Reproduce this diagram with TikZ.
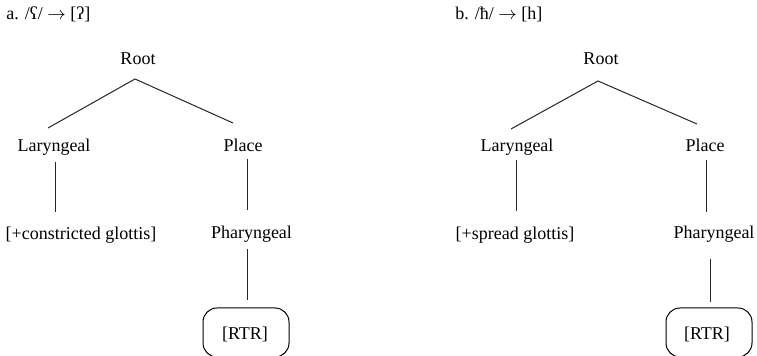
\documentclass[tikz,border=0pt]{standalone}
\usepackage{fontspec}
\setmainfont{Liberation Serif}
\newfontfamily\ipafont{DejaVu Serif}
\begin{document}
\begin{tikzpicture}[x=0.5pt,y=-0.5pt,
  lbl/.style={anchor=base,inner sep=0pt,font=\fontsize{9}{11}\selectfont},
  ttl/.style={anchor=base west,inner sep=0pt,font=\fontsize{9}{11}\selectfont},
  featbox/.style={draw,rounded corners=7pt,minimum width=43pt,minimum height=24.5pt,inner sep=0pt,line width=0.5pt,font=\fontsize{9}{11}\selectfont},
  edge/.style={line width=0.5pt,draw=black!85}]
\useasboundingbox (0,0) rectangle (757,356);
% ---------- panel a ----------
\node[ttl] (ta) at (6,20) {a. /ʕ/ $\rightarrow$ [ʔ]};
\node[lbl] (rootA) at (138,65) {Root};
\node[lbl] (larA) at (54,152) {Laryngeal};
\node[lbl] (plA) at (243,152) {Place};
\node[lbl] (cgA) at (81,240) {[+constricted glottis]};
\node[lbl] (phA) at (251.5,239) {Pharyngeal};
\node[featbox] (rtrA) at (246,332.5) {};
\node[lbl] (rtrAt) at (245,340) {[RTR]};
\coordinate (rAapex) at (135,79);
\coordinate (rAl) at (48,128);
\coordinate (rAr) at (233,123);
\coordinate (larAb) at (55,162);
\coordinate (cgAt) at (55,212);
\coordinate (plAb) at (247,159);
\coordinate (phAt) at (247,210);
\coordinate (phAb) at (247,249);
\coordinate (rtrAtop) at (247,300);
\draw[edge] (rAl) -- (rAapex) -- (rAr);
\draw[edge] (larAb) -- (cgAt);
\draw[edge] (plAb) -- (phAt);
\draw[edge] (phAb) -- (rtrAtop);
% ---------- panel b ----------
\node[ttl] (tb) at (455,20) {b. /ħ/ $\rightarrow$ [h]};
\node[lbl] (rootB) at (601,65) {Root};
\node[lbl] (larB) at (517,152) {Laryngeal};
\node[lbl] (plB) at (705,152) {Place};
\node[lbl] (sgB) at (515,240) {[+spread glottis]};
\node[lbl] (phB) at (714,239) {Pharyngeal};
\node[featbox] (rtrB) at (709,332.5) {};
\node[lbl] (rtrBt) at (707,340) {[RTR]};
\coordinate (rBapex) at (598,81);
\coordinate (rBl) at (511,129);
\coordinate (rBr) at (697,124);
\coordinate (larBb) at (516,160);
\coordinate (sgBt) at (516,211);
\coordinate (plBb) at (706,160);
\coordinate (phBt) at (706,212);
\coordinate (phBb) at (710,259);
\coordinate (rtrBtop) at (710,302);
\draw[edge] (rBl) -- (rBapex) -- (rBr);
\draw[edge] (larBb) -- (sgBt);
\draw[edge] (plBb) -- (phBt);
\draw[edge] (phBb) -- (rtrBtop);
\end{tikzpicture}
\end{document}
